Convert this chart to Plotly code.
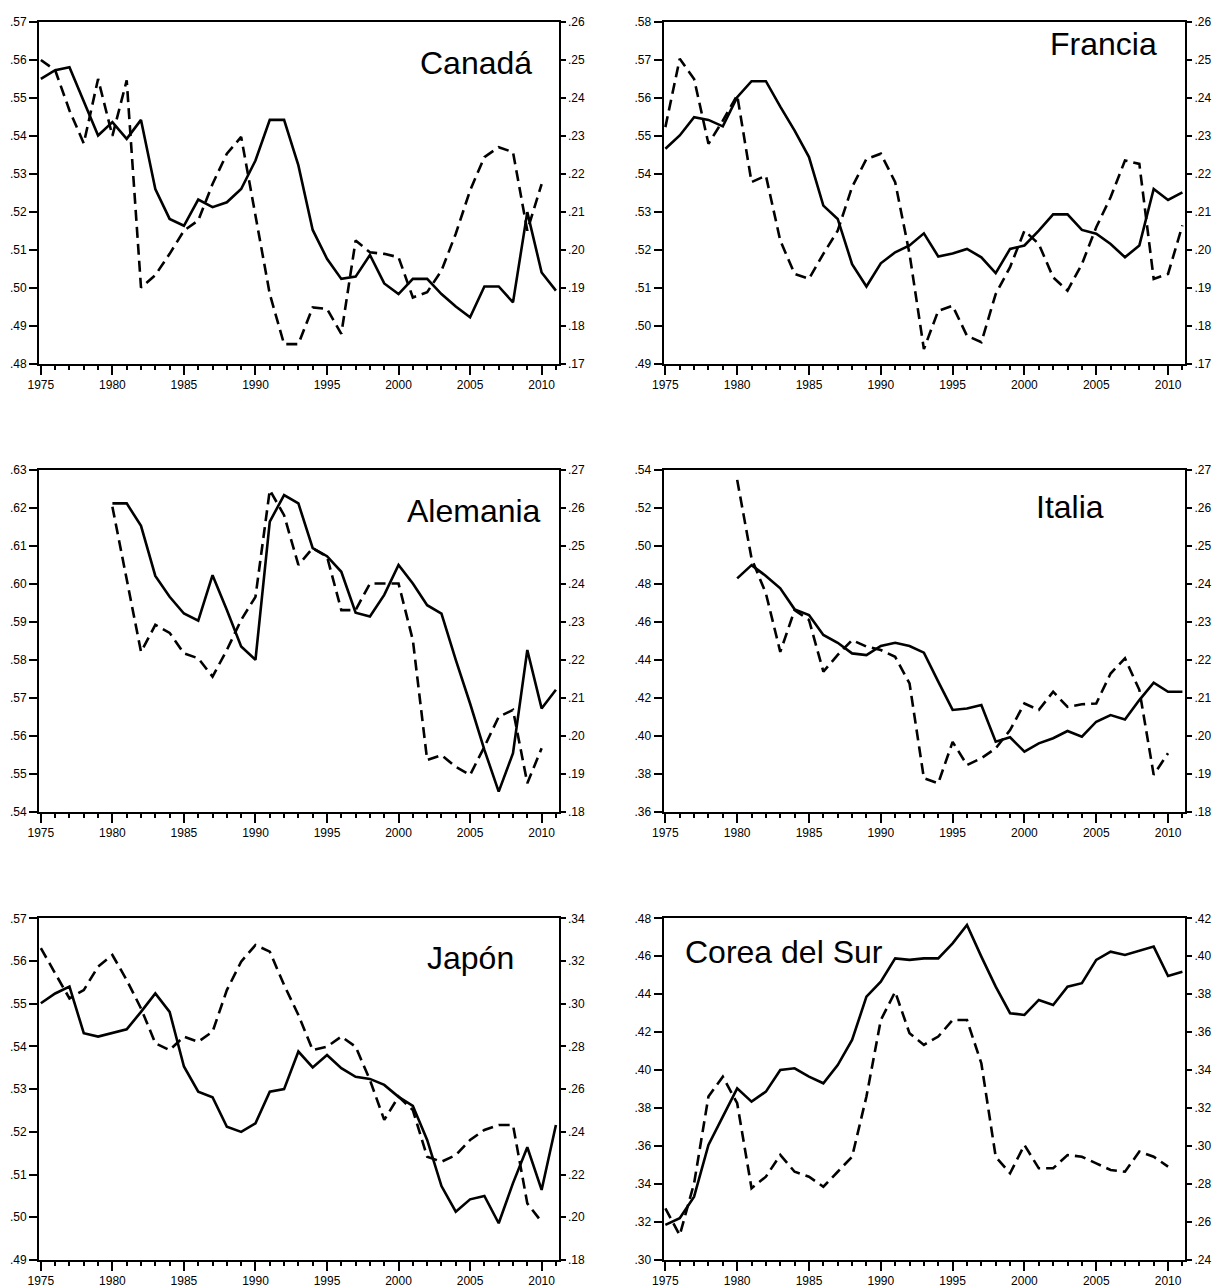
import plotly.graph_objects as go

W, H = 1216, 1287

# ---- series (left axis = solid line, right axis = dashed line) ----
canada_start = 1975
canada_solid = [.555, .5573, .5581, .5493, .5401, .5436, .5392, .5442, .526, .5181,
                .5163, .5232, .5212, .5225, .526, .5335, .5442, .5442, .5322, .5152,
                .5076, .5023, .5029, .5086, .5011, .4983, .5023, .5023, .4983, .495,
                .4922, .5003, .5003, .4961, .5199, .504, .4992]
canada_dashed = [.250, .2473, .2367, .228, .245, .230, .2446, .190, .1933, .1989,
                 .205, .2077, .2173, .2253, .2297, .2094, .1883, .1751, .1751, .1848,
                 .1844, .1778, .2024, .1993, .1989, .198, .1874, .1888, .1945, .2042,
                 .2156, .2244, .227, .2257, .205, .2173]

francia_start = 1975
francia_solid = [.5466, .5501, .5549, .5542, .5525, .5602, .5644, .5644, .5577, .5514,
                 .5444, .5316, .5281, .5162, .5103, .5164, .5193, .5211, .5243, .5182,
                 .519, .5202, .518, .5138, .5202, .5211, .525, .5293, .5293, .5252,
                 .5242, .5215, .518, .5211, .536, .5331, .5351]
francia_dashed = [.2323, .2503, .245, .2279, .234, .2407, .2178, .2195, .2024, .1936,
                  .1923, .1989, .205, .2165, .2239, .2253, .2178, .1989, .1738, .1839,
                  .1852, .1773, .1756, .1883, .1954, .205, .2015, .1927, .1892, .1962,
                  .2059, .2138, .2235, .2226, .1923, .1936, .2064]

alemania_start = 1980
alemania_solid = [.6212, .6212, .6153, .6021, .5966, .5922, .5903, .6023, .5931, .5835,
                  .58, .6164, .6234, .6212, .6094, .6073, .6032, .5924, .5914, .5971,
                  .605, .6001, .5944, .5922, .58, .5685, .5563, .5453, .5554, .5826,
                  .5672, .5721]
alemania_dashed = [.2603, .241, .2221, .2292, .2271, .2217, .2204, .2156, .2226, .2305,
                   .2366, .2647, .2581, .245, .2494, .2472, .2331, .2331, .2401, .2401,
                   .2401, .2252, .1936, .1949, .1918, .1897, .1971, .205, .2068, .1875,
                   .1967]

italia_start = 1980
italia_solid = [.4829, .4899, .4842, .4777, .4666, .4636, .4531, .449, .4434, .4425,
                .4473, .449, .4473, .4438, .4285, .4136, .4144, .4162, .3969, .3992,
                .3916, .396, .3987, .4025, .3995, .4074, .4109, .4086, .4188, .428,
                .4232, .4232]
italia_dashed = [.2674, .2467, .2375, .2221, .2331, .2305, .2169, .2213, .2252, .2235,
                 .2226, .2208, .2138, .1888, .1875, .1984, .1923, .1941, .1967, .2015,
                 .2085, .2068, .2116, .2076, .2083, .2085, .2164, .2204, .2121, .1897,
                 .1954]

japon_start = 1975
japon_solid = [.5501, .5524, .554, .5431, .5423, .5431, .544, .5481, .5524, .5481,
               .5353, .5294, .5281, .5212, .52, .522, .5294, .53, .5388, .5351,
               .538, .5349, .5329, .5324, .531, .5282, .5261, .5181, .5073, .5013,
               .5042, .505, .4986, .508, .5164, .5064, .5216]
japon_dashed = [.326, .314, .3025, .3064, .3174, .3228, .3111, .2978, .2815, .2783,
                .2846, .2822, .2869, .3064, .3197, .3275, .3244, .3088, .2947, .2783,
                .2799, .2846, .2799, .2643, .2456, .2565, .2502, .2284, .226, .2291,
                .2362, .2409, .2432, .2432, .2065, .1979]

corea_start = 1975
corea_solid = [.3185, .322, .3334, .3606, .3755, .3904, .3834, .3887, .4001, .401,
               .3966, .3931, .4027, .4159, .4387, .4466, .4589, .4581, .4589, .4589,
               .4668, .4765, .4598, .444, .43, .4291, .437, .4343, .444, .4458,
               .4581, .4624, .4607, .4628, .4651, .4496, .4519]
corea_dashed = [.2672, .2531, .2804, .3261, .3366, .3226, .2778, .2839, .2953, .2865,
                .2839, .2786, .2865, .2944, .3261, .3664, .3813, .3594, .3533, .3577,
                .3664, .3664, .3436, .2944, .2857, .3006, .2883, .2883, .2953, .2944,
                .2909, .2874, .2865, .2971, .2944, .2892]

# ---- tick labels ----
year_labels = ["1975", "1980", "1985", "1990", "1995", "2000", "2005", "2010"]

canada_left_ticks = [".48", ".49", ".50", ".51", ".52", ".53", ".54", ".55", ".56", ".57"]
canada_right_ticks = [".17", ".18", ".19", ".20", ".21", ".22", ".23", ".24", ".25", ".26"]
francia_left_ticks = [".49", ".50", ".51", ".52", ".53", ".54", ".55", ".56", ".57", ".58"]
francia_right_ticks = [".17", ".18", ".19", ".20", ".21", ".22", ".23", ".24", ".25", ".26"]
alemania_left_ticks = [".54", ".55", ".56", ".57", ".58", ".59", ".60", ".61", ".62", ".63"]
alemania_right_ticks = [".18", ".19", ".20", ".21", ".22", ".23", ".24", ".25", ".26", ".27"]
italia_left_ticks = [".36", ".38", ".40", ".42", ".44", ".46", ".48", ".50", ".52", ".54"]
italia_right_ticks = [".18", ".19", ".20", ".21", ".22", ".23", ".24", ".25", ".26", ".27"]
japon_left_ticks = [".49", ".50", ".51", ".52", ".53", ".54", ".55", ".56", ".57"]
japon_right_ticks = [".18", ".20", ".22", ".24", ".26", ".28", ".30", ".32", ".34"]
corea_left_ticks = [".30", ".32", ".34", ".36", ".38", ".40", ".42", ".44", ".46", ".48"]
corea_right_ticks = [".24", ".26", ".28", ".30", ".32", ".34", ".36", ".38", ".40", ".42"]

panels = [
    ("Canadá", canada_start, canada_solid, canada_dashed, canada_left_ticks, canada_right_ticks),
    ("Francia", francia_start, francia_solid, francia_dashed, francia_left_ticks, francia_right_ticks),
    ("Alemania", alemania_start, alemania_solid, alemania_dashed, alemania_left_ticks, alemania_right_ticks),
    ("Italia", italia_start, italia_solid, italia_dashed, italia_left_ticks, italia_right_ticks),
    ("Japón", japon_start, japon_solid, japon_dashed, japon_left_ticks, japon_right_ticks),
    ("Corea del Sur", corea_start, corea_solid, corea_dashed, corea_left_ticks, corea_right_ticks),
]

# ---- layout geometry (pixels) ----
col_px = [(39, 558.5), (663.5, 1185)]
row_px = [(22, 363.5), (470, 811.7), (918.3, 1260)]
# title placement: (left x px, vertical centre px)
title_px = [(418, 63), (1048, 44), (405, 511), (1034, 507), (425, 958), (683, 952)]

TICK_FONT = dict(family="Liberation Sans, Arial, sans-serif", size=12, color="black")
x_range = [1974.87, 2011.18]

fig = go.Figure()
layout = dict(
    width=W, height=H,
    margin=dict(l=0, r=0, t=0, b=0),
    paper_bgcolor="white", plot_bgcolor="white",
    showlegend=False,
    annotations=[],
)

for i, (name, start, solid, dashed, lticks, rticks) in enumerate(panels):
    col, row = i % 2, i // 2
    xn = i + 1
    yl = 2 * i + 1
    yr = 2 * i + 2
    xs = "x" if xn == 1 else f"x{xn}"
    yls = "y" if yl == 1 else f"y{yl}"
    yrs = f"y{yr}"

    x0, x1 = col_px[col]
    top, bot = row_px[row]
    xdom = [x0 / W, x1 / W]
    ydom = [1 - bot / H, 1 - top / H]

    lvals = [float("0" + t) for t in lticks]
    rvals = [float("0" + t) for t in rticks]
    years_l = list(range(start, start + len(solid)))
    years_r = list(range(start, start + len(dashed)))

    fig.add_trace(go.Scatter(x=years_l, y=solid, mode="lines", xaxis=xs, yaxis=yls,
                             line=dict(color="black", width=2.6), hoverinfo="skip"))
    fig.add_trace(go.Scatter(x=years_r, y=dashed, mode="lines", xaxis=xs, yaxis=yrs,
                             line=dict(color="black", width=2.6, dash="11px,6px"),
                             hoverinfo="skip"))

    xkey = "xaxis" if xn == 1 else f"xaxis{xn}"
    ylkey = "yaxis" if yl == 1 else f"yaxis{yl}"
    yrkey = f"yaxis{yr}"

    layout[xkey] = dict(
        domain=xdom, anchor=yls, range=x_range,
        tickvals=[int(y) for y in year_labels], ticktext=year_labels,
        ticks="outside", ticklen=9, tickwidth=1.6, tickcolor="black",
        minor=dict(ticks="outside", ticklen=4, tickwidth=1.6, tickcolor="black",
                   dtick=1, tick0=1975, showgrid=False),
        showline=True, linecolor="black", linewidth=2, mirror=True,
        showgrid=False, zeroline=False, tickfont=TICK_FONT, ticklabelstandoff=0,
        automargin=False, fixedrange=True,
    )
    layout[ylkey] = dict(
        domain=ydom, anchor=xs, side="left",
        range=[lvals[0], lvals[-1]], tickvals=lvals, ticktext=lticks,
        ticks="outside", ticklen=8, tickwidth=1.6, tickcolor="black",
        showline=True, linecolor="black", linewidth=2,
        showgrid=False, zeroline=False, tickfont=TICK_FONT, ticklabelstandoff=0,
        automargin=False, fixedrange=True,
    )
    layout[yrkey] = dict(
        overlaying=yls, anchor=xs, side="right",
        range=[rvals[0], rvals[-1]], tickvals=rvals, ticktext=rticks,
        ticks="outside", ticklen=5, tickwidth=1.6, tickcolor="black",
        showline=True, linecolor="black", linewidth=2,
        showgrid=False, zeroline=False, tickfont=TICK_FONT, ticklabelstandoff=0,
        automargin=False, fixedrange=True,
    )

    tx, ty = title_px[i]
    layout["annotations"].append(dict(
        text=name, x=tx / W, y=1 - ty / H, xref="paper", yref="paper",
        xanchor="left", yanchor="middle", showarrow=False,
        font=dict(family="Liberation Sans, Arial, sans-serif", size=32, color="black"),
    ))

fig.update_layout(**layout)
fig.write_html("out.html")
